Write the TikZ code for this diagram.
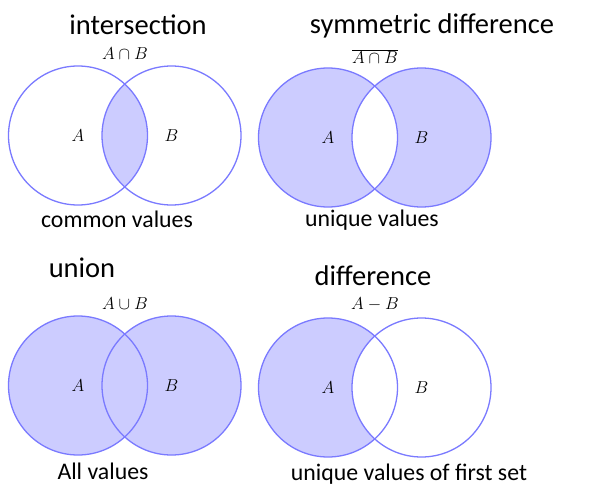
\documentclass[tikz,border=0pt]{standalone}
\usepackage{fontspec}
\setmainfont{Carlito}
\definecolor{setedge}{RGB}{122,122,255}
\definecolor{setshade}{RGB}{204,204,255}
\tikzset{
  setcircle/.style={circle, draw=setedge, line width=1.3pt, minimum size=139pt, inner sep=0pt},
  heading/.style={font=\fontsize{28.5}{32}\selectfont},
  caption/.style={font=\fontsize{23.8}{28}\selectfont},
  setname/.style={font=\fontsize{16}{18}\selectfont, inner sep=0pt},
}
\begin{document}
\begin{tikzpicture}[x=1pt, y=-1pt]
  \useasboundingbox (0,0) rectangle (591,500);
  % intersection
  \coordinate (iA) at (78,135.5);
  \coordinate (iB) at (171.5,135.5);
  \begin{scope}
    \clip (iA) circle[radius=69.5pt];
    \fill[setshade] (iB) circle[radius=69.5pt];
  \end{scope}
  \node[setcircle] (ia) at (iA) {};
  \node[setcircle] (ib) at (iB) {};
  \node[setname] at (ia.center) {$A$};
  \node[setname] at (ib.center) {$B$};
  \node[setname] (iop) at (125,54) {$A\cap B$};
  \node[heading] (ititle) at (138,25) {intersection};
  \node[caption] (inote) at (117,219) {common values};
  % symmetric difference
  \coordinate (sA) at (328,137.5);
  \coordinate (sB) at (421.5,137.5);
  \fill[setshade, even odd rule] (sA) circle[radius=69.5pt] (sB) circle[radius=69.5pt];
  \node[setcircle] (sa) at (sA) {};
  \node[setcircle] (sb) at (sB) {};
  \node[setname] at (sa.center) {$A$};
  \node[setname] at (sb.center) {$B$};
  \node[setname] (sop) at (375,57) {$\overline{A\cap B}$};
  \node[heading] (stitle) at (432,26) {symmetric difference};
  \node[caption] (snote) at (372,220) {unique values};
  % union
  \coordinate (uA) at (78,385.5);
  \coordinate (uB) at (171.5,385.5);
  \fill[setshade] (uA) circle[radius=69.5pt] (uB) circle[radius=69.5pt];
  \node[setcircle] (ua) at (uA) {};
  \node[setcircle] (ub) at (uB) {};
  \node[setname] at (ua.center) {$A$};
  \node[setname] at (ub.center) {$B$};
  \node[setname] (uop) at (125,304) {$A\cup B$};
  \node[heading] (utitle) at (82,268) {union};
  \node[caption] (unote) at (103,471) {All values};
  % difference
  \coordinate (dA) at (328,387.5);
  \coordinate (dB) at (421.5,387.5);
  \begin{scope}
    \clip (dA) circle[radius=69.5pt];
    \fill[setshade, even odd rule] (dA) circle[radius=69.5pt] (dB) circle[radius=69.5pt];
  \end{scope}
  \node[setcircle] (da) at (dA) {};
  \node[setcircle] (db) at (dB) {};
  \node[setname] at (da.center) {$A$};
  \node[setname] at (db.center) {$B$};
  \node[setname] (dop) at (375,304) {$A-B$};
  \node[heading] (dtitle) at (373,276) {difference};
  \node[caption] (dnote) at (409,474) {unique values of first set};
\end{tikzpicture}
\end{document}
